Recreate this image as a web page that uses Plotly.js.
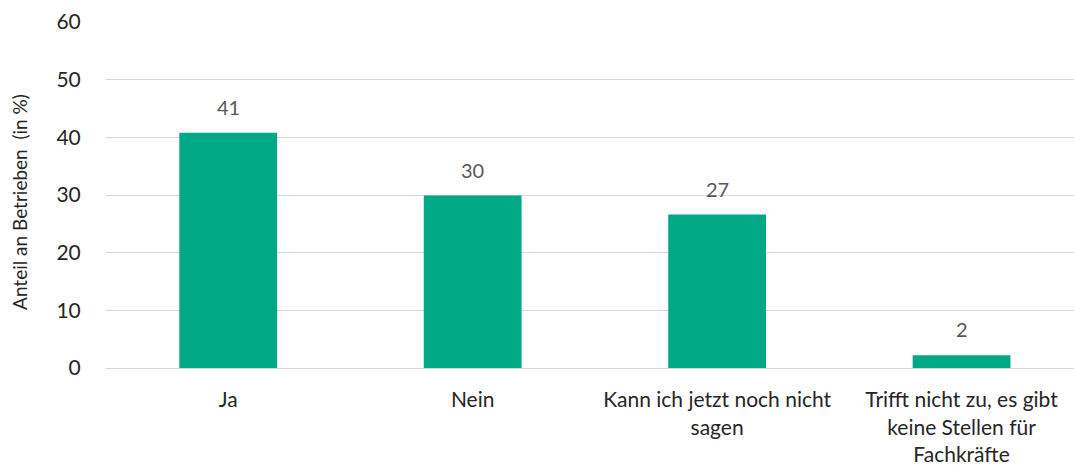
<!DOCTYPE html>
<html>
<head>
<meta charset="utf-8">
<script src="https://cdn.plot.ly/plotly-3.0.1.min.js"></script>
<style>html,body{margin:0;padding:0;background:#fff;}#chart{width:1074px;height:468px;}</style>
</head>
<body>
<div id="chart"></div>
<script>
const categories = ["Ja", "Nein", "Kann ich jetzt noch nicht<br>sagen", "Trifft nicht zu, es gibt<br>keine Stellen für<br>Fachkräfte"];
const values = [40.8, 29.9, 26.6, 2.2];
const labels = ["41", "30", "27", "2"];
const yTicks = [0, 10, 20, 30, 40, 50, 60];
const yTitle = "Anteil an Betrieben  (in %)";

const FONT = "Lato, 'Open Sans', sans-serif";
const xIdx = categories.map((_, i) => i);

const trace = {
  type: "bar",
  x: xIdx,
  y: values,
  width: 0.4,
  marker: {color: "#00A886", line: {width: 0}},
  hoverinfo: "none"
};

const annotations = xIdx.map((i) => ({
  x: i, y: values[i], xref: "x", yref: "y",
  text: labels[i], showarrow: false, yanchor: "bottom", yshift: 12,
  font: {family: FONT, size: 20, color: "#595959"}
}));
annotations.push({
  xref: "paper", yref: "paper", x: 0, y: 0.48,
  xanchor: "center", yanchor: "middle", xshift: -86,
  text: yTitle, textangle: -90, showarrow: false,
  font: {family: FONT, size: 19, color: "#262626"}
});

const layout = {
  width: 1074, height: 468,
  margin: {l: 106, r: 0, t: 22, b: 100, pad: 0},
  paper_bgcolor: "#fff", plot_bgcolor: "#fff",
  showlegend: false,
  font: {family: FONT, color: "#262626"},
  xaxis: {
    range: [-0.5, 3.46],
    tickmode: "array", tickvals: xIdx, ticktext: categories,
    showgrid: false, zeroline: false, showline: false,
    ticks: "outside", ticklen: 13, tickcolor: "rgba(0,0,0,0)",
    tickfont: {family: FONT, size: 21, color: "#262626"},
    fixedrange: true
  },
  yaxis: {
    range: [0, 60],
    tickmode: "array", tickvals: yTicks, ticktext: yTicks.map(String),
    showgrid: true, gridcolor: "#d9d9d9", gridwidth: 1,
    zeroline: true, zerolinecolor: "#d9d9d9", zerolinewidth: 1,
    showline: false,
    ticks: "outside", ticklen: 20, tickcolor: "rgba(0,0,0,0)",
    tickfont: {family: FONT, size: 21, color: "#262626"},
    automargin: false,
    fixedrange: true
  },
  annotations: annotations
};

Plotly.newPlot("chart", [trace], layout, {displayModeBar: false, staticPlot: true});
</script>
</body>
</html>
